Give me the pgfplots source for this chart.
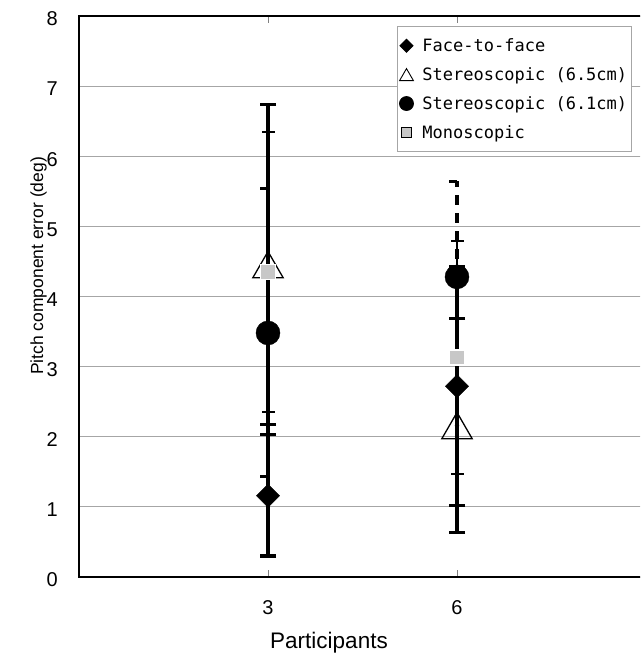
\documentclass[border=0pt]{standalone}
\usepackage{pgfplots}
\pgfplotsset{compat=1.18}
\usepackage{fontspec}
\setmainfont{Liberation Sans}
\newfontfamily\legfont{DejaVu Sans Mono}

\pgfdeclareplotmark{halfcap}{%
  \pgfpathmoveto{\pgfqpoint{-\pgfplotmarksize}{0pt}}%
  \pgfpathlineto{\pgfqpoint{0.4pt}{0pt}}%
  \pgfusepathqstroke}

\pgfplotsset{
  barline/.style={forget plot, only marks, mark=none,
    error bars/.cd, y dir=both, y explicit, error mark=none,
    error bar style={draw=black, solid, line width=#1}},
  dashline/.style={forget plot, only marks, mark=none,
    error bars/.cd, y dir=both, y explicit, error mark=none,
    error bar style={draw=black, line width=4.6pt, dash pattern=on 10pt off 8pt}},
  thickcap/.style={forget plot, only marks, mark=-, mark size=8pt,
    mark options={draw=black, solid, line width=3.3pt}},
  thincap/.style={forget plot, only marks, mark=-, mark size=6.5pt,
    mark options={draw=black, solid, line width=1.8pt}},
  halfcapplot/.style={forget plot, only marks, mark=halfcap, mark size=8pt,
    mark options={draw=black, solid, line width=3.3pt}},
}

\begin{document}
\begin{tikzpicture}[x=1pt,y=1pt]
\useasboundingbox (0,0) rectangle (640,655);
\clip (0,0) rectangle (640,655);
\begin{axis}[
  at={(79pt,78pt)}, anchor=south west,
  scale only axis, width=567pt, height=561pt,
  xmin=0, xmax=3, ymin=0, ymax=8,
  xtick={1,2}, xticklabels={3,6},
  ytick={0,1,2,3,4,5,6,7,8},
  /pgf/number format/assume math mode=true,
  axis line style={line width=1.4pt, black},
  ymajorgrids, grid style={gray!70, line width=0.9pt},
  ytick style={draw=none},
  xtick style={draw=gray, line width=0.8pt},
  tick align=inside, major tick length=7pt,
  yticklabel style={font=\fontsize{20}{24}\selectfont, anchor=east, inner sep=0pt, xshift=-21pt, yshift=-3pt},
  xticklabel style={font=\fontsize{20}{24}\selectfont, anchor=north, inner sep=0pt, yshift=-23pt},
  legend style={at={(0.561,0.982)}, anchor=north west, draw=gray!70, line width=0.8pt,
    fill=white, font={\legfont\fontsize{17}{20}\selectfont}, row sep=10.5pt,
    inner xsep=2pt, inner ysep=10pt, legend cell align=left},
  legend image code/.code={\path[draw=none, fill=none] (0pt,0pt) -- (20pt,0pt); \draw[#1] plot coordinates {(6pt,0pt)};},
]
% error bar lines
\addplot[barline=4.6pt] coordinates {(1,1.165) +- (0,0.865)};   % face-to-face
\addplot[barline=4.6pt] coordinates {(2,2.72) +- (0,1.70)};
\addplot[barline=4.6pt] coordinates {(1,4.455) +- (0,2.285)};   % stereo 6.5
\addplot[barline=4.6pt] coordinates {(2,2.16) +- (0,1.53)};
\addplot[dashline] coordinates {(1,3.485) +- (0,2.055)};        % stereo 6.1
\addplot[dashline] coordinates {(2,4.28) += (0,1.36) -= (0,1.46)};
\addplot[barline=1.8pt] coordinates {(1,4.345) +- (0,1.995)};   % mono
\addplot[barline=1.8pt] coordinates {(2,3.13) +- (0,1.66)};
% error bar caps (ends of the ranges)
\addplot[thickcap] coordinates {(1,0.30) (1,2.03) (2,1.02) (2,4.42)};
\addplot[thickcap] coordinates {(1,2.17) (1,6.74) (2,0.63) (2,3.69)};
\addplot[halfcapplot] coordinates {(1,1.43) (1,5.54) (2,5.64)};
\addplot[thincap] coordinates {(1,2.35) (1,6.34) (2,1.47) (2,4.79)};
% markers
\addplot[forget plot, only marks, mark=square*, mark size=8.2pt,
  mark options={rotate=45, fill=black, draw=black}] coordinates {(1,1.16) (2,2.72)};
\addplot[forget plot, only marks, mark=triangle, mark size=17.5pt,
  mark options={draw=black, line width=1.3pt, yshift=-4.4pt}] coordinates {(1,4.455) (2,2.16)};
\addplot[forget plot, only marks, mark=*, mark size=12pt,
  mark options={fill=black, draw=black}] coordinates {(1,3.48) (2,4.28)};
\addplot[forget plot, only marks, mark=square*, mark size=7.5pt,
  mark options={fill=black!22, draw=white, line width=1.2pt}] coordinates {(1,4.345) (2,3.13)};
% legend
\addlegendimage{only marks, mark=square*, mark size=4.6pt, mark options={rotate=45, fill=black, draw=black}}
\addlegendentry{Face-to-face}
\addlegendimage{only marks, mark=triangle, mark size=8pt, mark options={draw=black, line width=0.9pt, yshift=-2pt}}
\addlegendentry{Stereoscopic (6.5cm)}
\addlegendimage{only marks, mark=*, mark size=7pt, mark options={fill=black, draw=black}}
\addlegendentry{Stereoscopic (6.1cm)}
\addlegendimage{only marks, mark=square*, mark size=5pt, mark options={fill=black!22, draw=none}}
\addlegendentry{Monoscopic}
\end{axis}
\node[rotate=90, anchor=base, font=\fontsize{17.5}{21}\selectfont] at (43,389) {Pitch component error (deg)};
\node[anchor=base, font=\fontsize{22.5}{26}\selectfont] at (329,6) {Participants};
\end{tikzpicture}
\end{document}
